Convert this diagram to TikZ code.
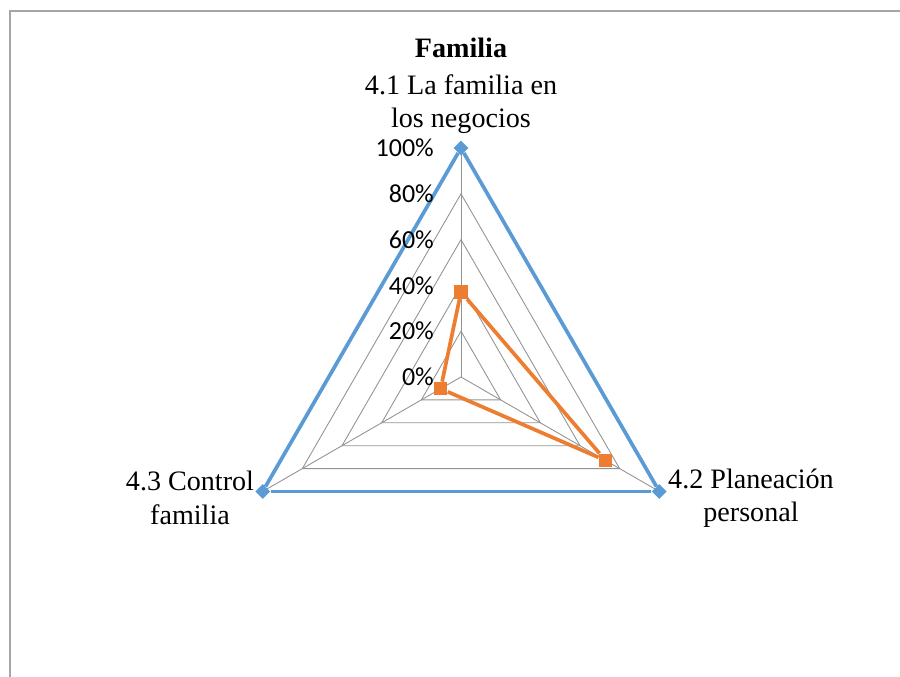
\documentclass[tikz,border=0pt]{standalone}
\usepackage{fontspec}
\setmainfont{Liberation Serif}
\newfontfamily\calibri{Carlito}
\usepackage{tikz}
\usetikzlibrary{positioning,shapes.geometric}

\definecolor{serieblue}{RGB}{91,155,213}
\definecolor{serieorange}{RGB}{237,125,49}

\tikzset{
    gridline/.style={draw=gray!85, line width=0.5pt},
    bluemark/.style={diamond, fill=serieblue, inner sep=0pt, minimum size=0.3cm},
    orangemark/.style={rectangle, fill=serieorange, inner sep=0pt, minimum size=0.27cm},
    axislabel/.style={font=\fontsize{16}{19}\selectfont, align=center},
    pctlabel/.style={font=\calibri\fontsize{14.8}{17}\selectfont, anchor=east}
}

\begin{document}
\begin{tikzpicture}
    \useasboundingbox (-9.22,-6.0) rectangle (8.78,7.54);

    % the chart frame (only top and left show)
    \draw[gray!70, line width=0.6pt] (-9.02,-6.0) -- (-9.02,7.32) -- (8.78,7.32);

    % the spokes and the grid triangles
    \coordinate (c) at (0,0);
    \coordinate (t) at (90:4.58);
    \coordinate (r) at (-30:4.58);
    \coordinate (l) at (210:4.58);
    \draw[gridline] (c) -- (t);
    \draw[gridline] (c) -- (r);
    \draw[gridline] (c) -- (l);
    \draw[gridline] (90:0.916) -- (-30:0.916) -- (210:0.916) -- cycle;
    \draw[gridline] (90:1.832) -- (-30:1.832) -- (210:1.832) -- cycle;
    \draw[gridline] (90:2.748) -- (-30:2.748) -- (210:2.748) -- cycle;
    \draw[gridline] (90:3.664) -- (-30:3.664) -- (210:3.664) -- cycle;

    % the first series (all at 100%)
    \node[bluemark] (b1) at (t) {};
    \node[bluemark] (b2) at (r) {};
    \node[bluemark] (b3) at (l) {};
    \draw[serieblue, line width=2.1pt] (b1) -- (b2);
    \draw[serieblue, line width=2.1pt] (b2) -- (b3);
    \draw[serieblue, line width=2.1pt] (b3) -- (b1);

    % the scale
    \node[pctlabel] (p0) at (-0.42,0) {0\%};
    \node[pctlabel] (p20) at (-0.42,0.916) {20\%};
    \node[pctlabel] (p40) at (-0.42,1.832) {40\%};
    \node[pctlabel] (p60) at (-0.42,2.748) {60\%};
    \node[pctlabel] (p80) at (-0.42,3.664) {80\%};
    \node[pctlabel] (p100) at (-0.42,4.58) {100\%};

    % the second series
    \node[orangemark] (o1) at (90:1.70) {};
    \node[orangemark] (o2) at (-30:3.34) {};
    \node[orangemark] (o3) at (210:0.47) {};
    \draw[serieorange, line width=2.1pt] (o1) -- (o2);
    \draw[serieorange, line width=2.1pt] (o2) -- (o3);
    \draw[serieorange, line width=2.1pt] (o3) -- (o1);

    % the texts
    \node[font=\bfseries\fontsize{16}{19}\selectfont] (title) at (0,6.58) {Familia};
    \node[axislabel] (n1) at (0,5.46) {4.1 La familia en\\los negocios};
    \node[axislabel] (n2) at (5.8,-2.42) {4.2 Planeación\\personal};
    \node[axislabel] (n3) at (-5.42,-2.42) {4.3 Control\\familia};
\end{tikzpicture}
\end{document}
